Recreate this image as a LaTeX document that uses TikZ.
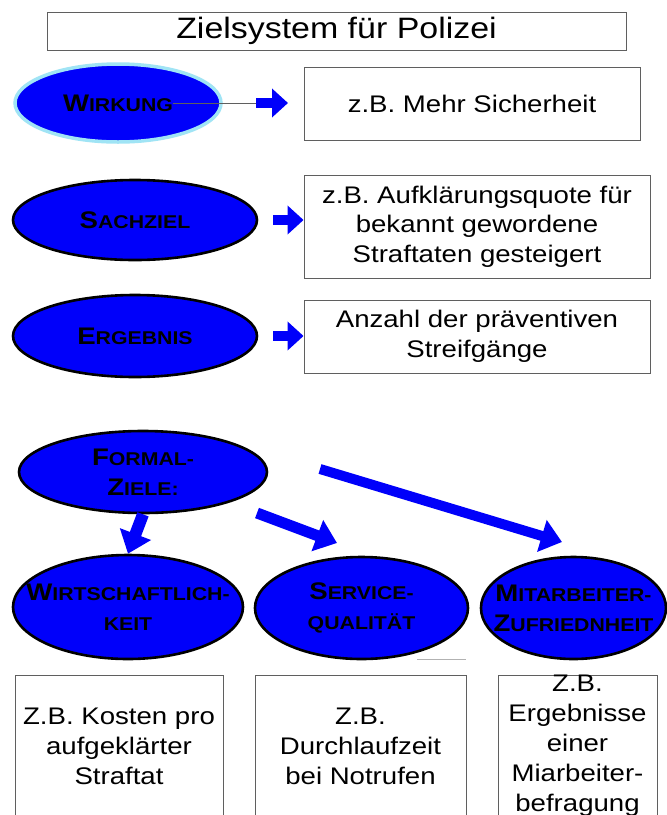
\documentclass[tikz,border=0pt]{standalone}
\usepackage{fontspec}
\setmainfont{Liberation Sans}[FakeStretch=1.15]
\usetikzlibrary{arrows.meta,shapes.geometric}
\definecolor{pblue}{RGB}{0,0,250}
\definecolor{glow}{RGB}{160,228,245}
\definecolor{frame}{RGB}{95,95,95}
\newcommand{\capL}[1]{{\fontsize{24}{30}\selectfont #1}}
\begin{document}
\begin{tikzpicture}[x=1pt,y=-1pt,
  ell/.style={ellipse, draw=black, line width=2.6pt, fill=pblue, inner sep=0pt},
  lbl/.style={font=\bfseries\fontsize{18.5}{30}\selectfont, align=center, text=black, inner sep=0pt},
  tbox/.style={draw=frame, line width=0.9pt, fill=white, inner sep=0pt},
  btxt/.style={font=\fontsize{24}{29.5}\selectfont, align=center, inner sep=0pt},
  ltxt/.style={font=\fontsize{24}{30}\selectfont, align=center, inner sep=0pt},
  barrow/.style={draw=pblue, line width=10pt, -{Triangle[length=16pt,width=28pt]}},
  bigarrow/.style={draw=pblue, line width=11pt, -{Triangle[length=21pt,width=32pt]}}
]
\useasboundingbox (0,0) rectangle (667,815);
\clip (0,0) rectangle (667,815);
\fill[white] (0,0) rectangle (667,815);

% title
\node[tbox, minimum width=579pt, minimum height=38pt] (title) at (336.5,31) {};
\node[font=\fontsize{29.5}{34}\selectfont, inner sep=0pt] (titletxt) at (title) {Zielsystem für Polizei};

% Wirkung
\node[ell, draw=glow, line width=3.5pt, minimum width=206pt, minimum height=78pt] (wk) at (118,103) {};
\node[lbl] (wkt) at (wk) {\capL{W}IRKUNG};
\node[tbox, minimum width=336pt, minimum height=73pt] (b1) at (472,103.5) {};
\node[btxt] (b1t) at (b1) {z.B. Mehr Sicherheit};
\coordinate (wa1) at (256,103);
\coordinate (wa2) at (288,103);
\draw[frame, line width=0.8pt] (wkt.east) -- (wa1);
\draw[barrow] (wa1) -- (wa2);

% Sachziel
\node[ell, minimum width=244pt, minimum height=80pt] (sz) at (135,220) {};
\node[lbl] (szt) at (sz) {\capL{S}ACHZIEL};
\node[tbox, minimum width=346pt, minimum height=103pt] (b2) at (477,226.5) {};
\node[btxt] (b2t) at (b2) {z.B. Aufklärungsquote für\\bekannt gewordene\\Straftaten gesteigert};
\draw[barrow] ([xshift=15pt]sz.east) -- (sz.east -| b2.west);

% Ergebnis
\node[ell, minimum width=244pt, minimum height=82pt] (eg) at (135,336) {};
\node[lbl] (egt) at (eg) {\capL{E}RGEBNIS};
\node[tbox, minimum width=346pt, minimum height=73pt] (b3) at (477,336.5) {};
\node[btxt] (b3t) at (b3) {Anzahl der präventiven\\Streifgänge};
\draw[barrow] ([xshift=15pt]eg.east) -- (eg.east -| b3.west);

% Formalziele
\node[ell, minimum width=248pt, minimum height=82pt] (fz) at (143,472) {};
\node[lbl] (fzt) at (fz) {\capL{F}ORMAL-\\\capL{Z}IELE:};

% lower ellipses
\node[ell, minimum width=230pt, minimum height=104pt] (wi) at (128,607) {};
\node[lbl] (wit) at (wi) {\capL{W}IRTSCHAFTLICH-\\KEIT};
\node[ell, minimum width=213pt, minimum height=102pt] (sq) at (361.5,608) {};
\node[lbl] (sqt) at (sq) {\capL{S}ERVICE-\\QUALITÄT};
\node[ell, minimum width=185pt, minimum height=102pt] (mz) at (573.5,608) {};
\node[lbl] (mzt) at (mz) {\capL{M}ITARBEITER-\\\capL{Z}UFRIEDNHEIT};

% arrows from Formalziele
\coordinate (a2s) at (257,513);
\coordinate (a2e) at (337,543);
\coordinate (a3s) at (320,469);
\coordinate (a3e) at (562,542);
\draw[bigarrow, line width=12pt] (fz.south) -- (wi.north);
\draw[bigarrow] (a2s) -- (a2e);
\draw[bigarrow, line width=10pt] (a3s) -- (a3e);

% small grey line
\coordinate (gl1) at (417,659);
\coordinate (gl2) at (466,659);
\draw[gray!60, line width=1pt] (gl1) -- (gl2);

% bottom boxes
\node[tbox, minimum width=208pt, minimum height=142pt] (b4) at (119,746) {};
\node[ltxt] (b4t) at (b4) {Z.B. Kosten pro\\aufgeklärter\\Straftat};
\node[tbox, minimum width=211pt, minimum height=142pt] (b5) at (360.5,746) {};
\node[ltxt] (b5t) at (b5) {Z.B.\\Durchlaufzeit\\bei Notrufen};
\node[tbox, minimum width=159pt, minimum height=142pt] (b6) at (577.5,746) {};
\node[ltxt] (b6t) at (b6) {Z.B.\\Ergebnisse\\einer\\Miarbeiter-\\befragung};
\end{tikzpicture}
\end{document}
